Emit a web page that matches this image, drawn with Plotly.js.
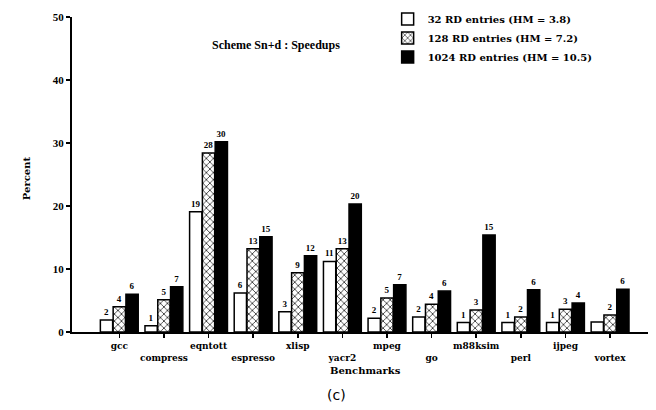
<!DOCTYPE html>
<html><head><meta charset="utf-8">
<script src="https://cdn.plot.ly/plotly-3.0.1.min.js"></script>
<style>body{margin:0;background:#fff}#c{width:656px;height:410px}</style>
</head><body><div id="c"></div>
<script>
const benchmarks = ["gcc","compress","eqntott","espresso","xlisp","yacr2","mpeg","go","m88ksim","perl","ijpeg","vortex"];
const tickLabels = ["gcc","compress","eqntott","espresso","xlisp","yacr2","mpeg","go","m88ksim","perl","ijpeg","vortex"];
const rd32 = [1.9,1.0,19.1,6.2,3.2,11.2,2.2,2.4,1.5,1.5,1.5,1.6];
const rd128 = [4.0,5.1,28.4,13.2,9.4,13.2,5.4,4.4,3.5,2.4,3.6,2.7];
const rd1024 = [6.0,7.2,30.2,15.1,12.1,20.3,7.5,6.5,15.4,6.7,4.6,6.8];
const lbl32 = ["2","1","19","6","3","11","2","2","1","1","1",""];
const lbl128 = ["4","5","28","13","9","13","5","4","3","2","3","2"];
const lbl1024 = ["6","7","30","15","12","20","7","6","15","6","4","6"];
const seriesNames = ["32 RD entries (HM = 3.8)","128 RD entries (HM = 7.2)","1024 RD entries (HM = 10.5)"];

const xs = benchmarks.map((_, i) => i);
const F = "Liberation Serif";
const F2 = "DejaVu Serif";
const lblFont = {family: F, size: 9, color: "#000", weight: "bold"};
function bar(y, t, name, marker) {
  return {type: "bar", x: xs, y: y, text: t, name: name, marker: marker,
    textposition: "outside", textfont: lblFont, outsidetextfont: lblFont,
    constraintext: "none", cliponaxis: false, hoverinfo: "skip"};
}
const traces = [
  bar(rd32, lbl32, seriesNames[0], {color: "#fff", line: {color: "#000", width: 1.5}}),
  bar(rd128, lbl128, seriesNames[1], {color: "#fff", line: {color: "#000", width: 1.5},
      pattern: {shape: "x", fgcolor: "#000", bgcolor: "#fff", size: 5, solidity: 0.25}}),
  bar(rd1024, lbl1024, seriesNames[2], {color: "#000", line: {color: "#000", width: 1.5}})
];
const tt = tickLabels.map((s, i) => i % 2 ? "<br>" + s : s);
const layout = {
  width: 656, height: 410,
  margin: {l: 72, r: 8, t: 17, b: 78, autoexpand: false},
  paper_bgcolor: "#fff", plot_bgcolor: "#fff",
  font: {family: F, color: "#000", weight: "bold"},
  barmode: "group", bargap: 0.14, bargroupgap: 0.04,
  showlegend: true,
  legend: {x: 0.548, y: 1.04, xanchor: "left", yanchor: "top", bgcolor: "rgba(0,0,0,0)",
    font: {family: F2, size: 10, weight: "bold"}, tracegroupgap: 0, itemwidth: 30},
  xaxis: {range: [-1.06, 11.85], tickvals: xs, ticktext: tt, tickangle: 0, ticks: "outside", ticklen: 4,
    tickwidth: 1.5, tickcolor: "#000", showline: true, linecolor: "#000", linewidth: 2,
    showgrid: false, zeroline: false, tickfont: {family: F2, size: 9, weight: "bold"}},
  yaxis: {range: [0, 50], tickvals: [0,10,20,30,40,50], ticks: "outside", ticklen: 4,
    tickwidth: 1.5, tickcolor: "#000", showline: true, linecolor: "#000", linewidth: 2,
    showgrid: false, zeroline: false, tickfont: {family: F, size: 11, weight: "bold"}},
  annotations: [
    {text: "Scheme Sn+d : Speedups", xref: "paper", yref: "paper", x: 0.354, y: 0.91,
     yanchor: "middle", showarrow: false, font: {family: F, size: 12, weight: "bold"}},
    {text: "Percent", xref: "paper", yref: "paper", x: -0.079, y: 0.49, textangle: -90,
     xanchor: "center", yanchor: "middle", showarrow: false, font: {family: F2, size: 10, weight: "bold"}},
    {text: "Benchmarks", xref: "paper", yref: "paper", x: 0.51, y: -0.122,
     yanchor: "middle", showarrow: false, font: {family: F2, size: 10, weight: "bold"}},
    {text: "(c)", xref: "paper", yref: "paper", x: 0.46, y: -0.2,
     yanchor: "middle", showarrow: false, font: {family: "DejaVu Sans", size: 14, weight: "normal"}}
  ]
};
Plotly.newPlot("c", traces, layout, {displayModeBar: false, staticPlot: true});
</script></body></html>
